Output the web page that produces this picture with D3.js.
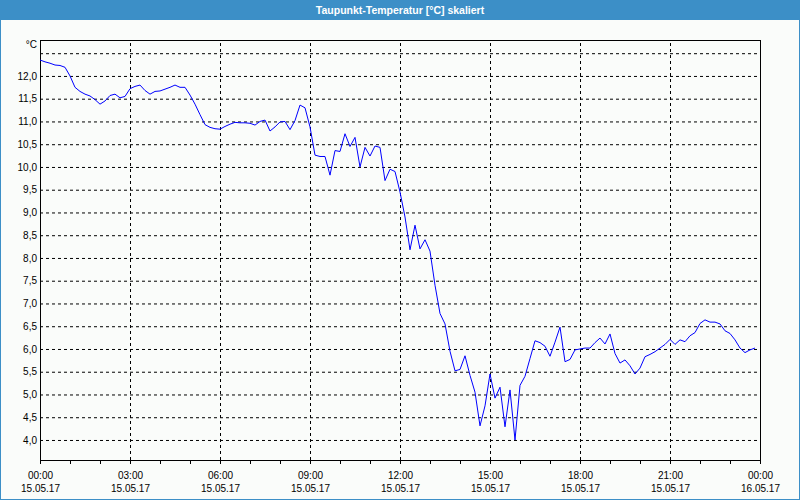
<!DOCTYPE html>
<html>
<head>
<meta charset="utf-8">
<script src="https://cdn.jsdelivr.net/npm/d3@7"></script>
<style>
  body { margin: 0; background: #fff; }
  svg { display: block; font-family: "Liberation Sans", Arial, sans-serif; }
</style>
</head>
<body>
<div class="chart"></div>
<script>
// Taupunkt-Temperatur, 10-Minuten-Werte vom 15.05.17
var chartTitle = "Taupunkt-Temperatur [°C] skaliert";
var unitLabel = "°C";
var startTime = new Date(2017, 4, 15, 0, 0);
var endTime = new Date(2017, 4, 16, 0, 0);
var stepMinutes = 10;

var dewPoint = [
  12.35, 12.31, 12.28, 12.24, 12.23, 12.19, 12.0, 11.75, 11.66, 11.6,
  11.56, 11.48, 11.38, 11.45, 11.57, 11.6, 11.52, 11.55, 11.72, 11.77,
  11.80, 11.68, 11.6, 11.66, 11.67, 11.71, 11.75, 11.80, 11.75, 11.75,
  11.58, 11.38, 11.15, 10.93, 10.87, 10.84, 10.83, 10.89, 10.94, 10.98,
  10.97, 10.97, 10.96, 10.92, 11.0, 11.03, 10.79, 10.88, 10.99, 11.0,
  10.82, 11.02, 11.36, 11.30, 10.88, 10.26, 10.23, 10.23, 9.82, 10.36,
  10.34, 10.73, 10.45, 10.65, 10.0, 10.43, 10.24, 10.46, 10.43, 9.70,
  9.95, 9.9, 9.45, 8.9, 8.18, 8.72, 8.2, 8.4, 8.15, 7.4,
  6.78, 6.55, 5.95, 5.52, 5.55, 5.85, 5.42, 5.05, 4.31, 4.75,
  5.45, 4.92, 5.16, 4.29, 5.1, 4.0, 5.2, 5.4, 5.79, 6.18,
  6.14, 6.06, 5.84, 6.15, 6.48, 5.72, 5.77, 5.98, 6.0, 6.02,
  6.02, 6.14, 6.24, 6.11, 6.33, 5.9, 5.69, 5.76, 5.63, 5.45,
  5.58, 5.83, 5.88, 5.94, 6.02, 6.1, 6.21, 6.1, 6.2, 6.16,
  6.29, 6.36, 6.56, 6.64, 6.59, 6.59, 6.55, 6.4, 6.34, 6.2,
  6.02, 5.92, 5.98, 6.02
];

// y grid lines (12,5 has a line but no label)
var yTicks = [4.0, 4.5, 5.0, 5.5, 6.0, 6.5, 7.0, 7.5, 8.0, 8.5, 9.0, 9.5, 10.0, 10.5, 11.0, 11.5, 12.0, 12.5];
var yLabelled = [4.0, 4.5, 5.0, 5.5, 6.0, 6.5, 7.0, 7.5, 8.0, 8.5, 9.0, 9.5, 10.0, 10.5, 11.0, 11.5, 12.0];
var yDomain = [3.56, 12.79];
// labelled hours on the time axis
var xTickHours = [0, 3, 6, 9, 12, 15, 18, 21, 24];

var svgWidth = 800;
var svgHeight = 500;
var margin = { top: 40, right: 40, bottom: 40, left: 40 };
var width = svgWidth - margin.left - margin.right;
var height = svgHeight - margin.top - margin.bottom;
var dash = "3,3";

var svg = d3.select(".chart")
  .append("svg")
  .attr("width", svgWidth)
  .attr("height", svgHeight);

// frame + title bar
svg.append("rect")
  .attr("x", 0.5).attr("y", 0.5)
  .attr("width", svgWidth - 1).attr("height", svgHeight - 1)
  .attr("fill", "#fafcfa")
  .attr("stroke", "#3c8fc7");

svg.append("rect")
  .attr("x", 0).attr("y", 0)
  .attr("width", svgWidth).attr("height", 20)
  .attr("fill", "#3c8fc7");

svg.append("text")
  .attr("x", svgWidth / 2)
  .attr("y", 14)
  .attr("text-anchor", "middle")
  .attr("font-size", "10.5px")
  .attr("font-weight", "bold")
  .attr("fill", "#ffffff")
  .text(chartTitle);

var data = dewPoint.map(function (v, i) {
  return { t: d3.timeMinute.offset(startTime, i * stepMinutes), v: v };
});

var x = d3.scaleTime().domain([startTime, endTime]).range([0, width]);
var y = d3.scaleLinear().domain(yDomain).range([height, 0]);

var chartGroup = svg.append("g")
  .attr("transform", `translate(${margin.left}, ${margin.top})`);

// horizontal grid + labels
var leftAxis = d3.axisLeft(y)
  .tickValues(yTicks)
  .tickSize(-width)
  .tickPadding(3)
  .tickFormat(function (d) {
    if (yLabelled.indexOf(d) < 0) return "";
    return d3.format(".1f")(d).replace(".", ",");
  });

var yG = chartGroup.append("g").call(leftAxis);
yG.select(".domain").remove();
yG.selectAll(".tick line")
  .attr("stroke", "#000")
  .attr("stroke-dasharray", dash);
yG.selectAll(".tick text")
  .attr("font-family", "Liberation Sans, Arial, sans-serif")
  .attr("font-size", "10px")
  .attr("fill", "#000");

// vertical grid every 3 hours
var xTickDates = xTickHours.map(function (h) { return d3.timeHour.offset(startTime, h); });

var gridAxis = d3.axisBottom(x)
  .tickValues(xTickDates)
  .tickSize(-height)
  .tickFormat("");
var xGrid = chartGroup.append("g")
  .attr("transform", `translate(0, ${height})`)
  .call(gridAxis);
xGrid.select(".domain").remove();
xGrid.selectAll(".tick line")
  .attr("stroke", "#000")
  .attr("stroke-dasharray", dash);

// hourly ticks below the axis
var minorAxis = d3.axisBottom(x)
  .ticks(d3.timeHour.every(1))
  .tickSize(4)
  .tickFormat("");
var xMinor = chartGroup.append("g")
  .attr("transform", `translate(0, ${height})`)
  .call(minorAxis);
xMinor.select(".domain").remove();

var bottomAxis = d3.axisBottom(x)
  .tickValues(xTickDates)
  .tickSize(6)
  .tickFormat(d3.timeFormat("%H:%M"));
var xG = chartGroup.append("g")
  .attr("transform", `translate(0, ${height})`)
  .call(bottomAxis);
xG.select(".domain").remove();
xG.selectAll(".tick line").attr("stroke-dasharray", dash);
xG.selectAll(".tick text")
  .attr("y", 19)
  .attr("dy", null)
  .attr("font-family", "Liberation Sans, Arial, sans-serif")
  .attr("font-size", "10px")
  .attr("fill", "#000");
xG.selectAll(".tick")
  .append("text")
  .attr("y", 32)
  .attr("text-anchor", "middle")
  .attr("font-family", "Liberation Sans, Arial, sans-serif")
  .attr("font-size", "10px")
  .attr("fill", "#000")
  .text(d3.timeFormat("%d.%m.%y"));

// plot box
chartGroup.append("rect")
  .attr("x", 0.5).attr("y", 0.5)
  .attr("width", width).attr("height", height)
  .attr("fill", "none")
  .attr("stroke", "#000");

// unit
chartGroup.append("text")
  .attr("x", -3)
  .attr("y", 8)
  .attr("text-anchor", "end")
  .attr("font-size", "10px")
  .attr("fill", "#000")
  .text(unitLabel);

// the series
var line = d3.line()
  .x(function (d) { return x(d.t); })
  .y(function (d) { return y(d.v); });

chartGroup.append("path")
  .datum(data)
  .attr("fill", "none")
  .attr("stroke", "#0000ff")
  .attr("stroke-width", 1)
  .attr("d", line);
</script>
</body>
</html>
